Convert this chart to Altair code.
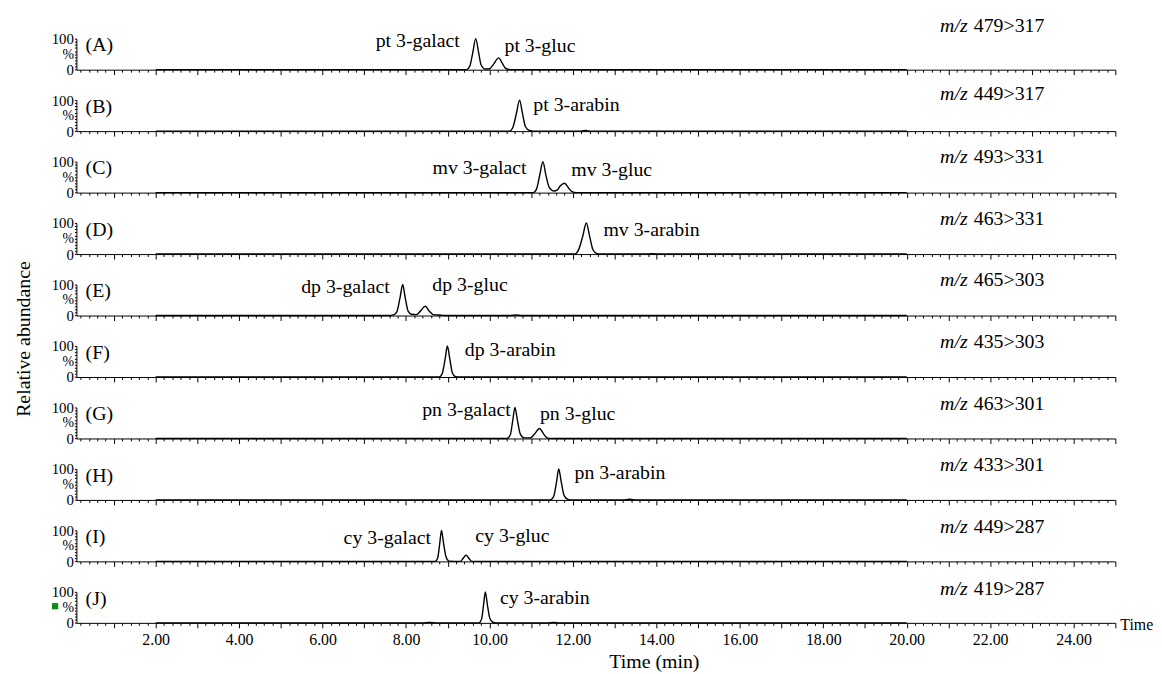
import altair as alt
import pandas as pd

FONT = "Liberation Serif"

# ---------------- data ----------------
panel_letters = ["A", "B", "C", "D", "E", "F", "G", "H", "I", "J"]
mz_transitions = ["479>317", "449>317", "493>331", "463>331", "465>303",
                  "435>303", "463>301", "433>301", "449>287", "419>287"]
mz_levels = [141, 118, 114, 113, 113, 112, 112, 111, 110, 109]

# chromatogram traces: (time in min, relative abundance in %)
trace_A = [(2.0, 0), (9.45, 0), (9.53, 12), (9.6, 55), (9.67, 100), (9.74, 55), (9.8, 15),
           (9.9, 2), (10.0, 3), (10.1, 18), (10.22, 38), (10.31, 20), (10.38, 5), (10.5, 0), (20.0, 0)]
trace_B = [(2.0, 0), (10.48, 0), (10.56, 12), (10.65, 60), (10.72, 100), (10.79, 58), (10.86, 15),
           (10.96, 2), (11.05, 0), (12.15, 0), (12.29, 2), (12.45, 0), (20.0, 0)]
trace_C = [(2.0, 0), (11.05, 0), (11.13, 12), (11.21, 60), (11.28, 100), (11.35, 58), (11.43, 18),
           (11.55, 5), (11.62, 8), (11.7, 22), (11.8, 30), (11.9, 14), (11.98, 3), (12.08, 0), (20.0, 0)]
trace_D = [(2.0, 0), (12.04, 0), (12.13, 12), (12.24, 60), (12.32, 100), (12.4, 58), (12.48, 14),
           (12.57, 2), (12.66, 0), (13.7, 0), (13.9, 1.5), (14.15, 0), (20.0, 0)]
trace_E = [(2.0, 0), (7.6, 0), (7.7, 2), (7.78, 12), (7.86, 60), (7.92, 100), (7.98, 58), (8.05, 14),
           (8.13, 4), (8.25, 3), (8.35, 15), (8.46, 30), (8.56, 14), (8.65, 3), (8.85, 1), (8.95, 0),
           (10.5, 0), (10.63, 1.5), (10.78, 0), (20.0, 0)]
trace_F = [(2.0, 0), (8.8, 0), (8.87, 12), (8.94, 60), (8.99, 100), (9.05, 58), (9.11, 14),
           (9.19, 1), (9.28, 0), (20.0, 0)]
trace_G = [(2.0, 0), (10.42, 0), (10.5, 12), (10.56, 60), (10.61, 100), (10.67, 58), (10.74, 14),
           (10.83, 2), (10.98, 2), (11.08, 14), (11.2, 32), (11.3, 14), (11.38, 2), (11.48, 0), (20.0, 0)]
trace_H = [(2.0, 0), (11.46, 0), (11.54, 12), (11.61, 60), (11.66, 100), (11.72, 58), (11.79, 14),
           (11.88, 2), (11.98, 0), (13.2, 0), (13.36, 2), (13.52, 0), (20.0, 0)]
trace_I = [(2.0, 0), (8.7, 0), (8.76, 12), (8.81, 60), (8.85, 100), (8.9, 58), (8.96, 14),
           (9.03, 1), (9.3, 0), (9.37, 10), (9.44, 20), (9.51, 9), (9.58, 0), (20.0, 0)]
trace_J = [(2.0, 0), (8.4, 0), (8.57, 1.5), (8.75, 0), (9.75, 0), (9.81, 12), (9.86, 60), (9.9, 100),
           (9.95, 58), (10.01, 14), (10.08, 2), (10.16, 0), (11.4, 0), (11.54, 1.5), (11.7, 0), (20.0, 0)]
traces = [trace_A, trace_B, trace_C, trace_D, trace_E, trace_F, trace_G, trace_H, trace_I, trace_J]

# peak annotations
peak_panel = ["A", "A", "B", "C", "C", "D", "E", "E", "F", "G", "G", "H", "I", "I", "J"]
peak_name = ["pt 3-galact", "pt 3-gluc", "pt 3-arabin",
             "mv 3-galact", "mv 3-gluc", "mv 3-arabin",
             "dp 3-galact", "dp 3-gluc", "dp 3-arabin",
             "pn 3-galact", "pn 3-gluc", "pn 3-arabin",
             "cy 3-galact", "cy 3-gluc", "cy 3-arabin"]
peak_anchor_time = [9.29, 10.36, 11.05, 10.89, 11.96, 12.73, 7.61, 8.63, 9.41,
                    10.51, 11.21, 12.04, 8.60, 9.66, 10.25]
peak_anchor_level = [91, 75, 84, 78, 73, 76, 91, 97, 87, 90, 80, 86, 75, 83, 80]

x_domain = [0.1, 25.0]
x_tick_values = [round(0.2 * i, 1) for i in range(1, 126)]
y_tick_values = list(range(0, 101, 10))

# ---------------- chart ----------------
PW, PH = 1048, 31.3

def X(last):
    return alt.X(
        "t:Q",
        scale=alt.Scale(domain=x_domain, nice=False, zero=False),
        axis=alt.Axis(
            values=x_tick_values,
            tickSize={"condition": {"test": "abs(datum.value - round(datum.value)) < 0.01", "value": 5},
                      "value": 2.5},
            labels=last,
            labelExpr="abs(datum.value/2 - round(datum.value/2)) < 0.01 ? format(datum.value, '.2f') : ''",
            labelFont=FONT, labelFontSize=16, labelColor="black", labelPadding=4,
            labelOverlap=False, labelFlush=False, title=None, grid=False,
            domainColor="black", tickColor="black", domainWidth=1, tickWidth=1,
        ),
    )

def Y():
    return alt.Y(
        "v:Q",
        scale=alt.Scale(domain=[0, 100], nice=False),
        axis=alt.Axis(
            values=y_tick_values,
            labelExpr="datum.value == 100 ? '100' : (datum.value == 50 ? '%' : (datum.value == 0 ? '0' : ''))",
            tickSize=2, labelFont=FONT,
            labelFontSize={"condition": {"test": "datum.value == 50", "value": 14}, "value": 15},
            labelColor="black", labelPadding=1,
            labelOverlap=False, title=None, grid=False, domainColor="black", tickColor="black",
        ),
    )

panels = []
for i, letter in enumerate(panel_letters):
    last = i == len(panel_letters) - 1
    df = pd.DataFrame(traces[i], columns=["t", "v"])
    line = alt.Chart(df).mark_line(interpolate="monotone", color="black", strokeWidth=1.4,
                                   clip=False).encode(x=X(last), y=Y())

    pk = pd.DataFrame({"p": peak_panel, "name": peak_name, "t": peak_anchor_time, "v": peak_anchor_level})
    pk = pk[pk["p"] == letter]
    left_lab = pk[~pk["name"].str.contains("galact")]
    right_lab = pk[pk["name"].str.contains("galact")]
    layers = [line]
    if len(right_lab):
        layers.append(alt.Chart(right_lab).mark_text(font=FONT, fontSize=20, align="right",
                                                     baseline="middle", color="black")
                      .encode(x=X(last), y=Y(), text="name:N"))
    if len(left_lab):
        layers.append(alt.Chart(left_lab).mark_text(font=FONT, fontSize=20, align="left",
                                                    baseline="middle", color="black")
                      .encode(x=X(last), y=Y(), text="name:N"))

    lt = pd.DataFrame({"t": [0.32], "v": [78], "lab": ["(" + letter + ")"]})
    layers.append(alt.Chart(lt).mark_text(font=FONT, fontSize=20, align="left", baseline="middle",
                                          color="black").encode(x=X(last), y=Y(), text="lab:N"))

    mz = pd.DataFrame({"t": [20.8], "v": [mz_levels[i]], "a": ["m/z"], "b": [mz_transitions[i]]})
    layers.append(alt.Chart(mz).mark_text(font=FONT, fontSize=20, fontStyle="italic", align="left",
                                          baseline="middle", color="black")
                  .encode(x=X(last), y=Y(), text="a:N"))
    layers.append(alt.Chart(mz).mark_text(font=FONT, fontSize=20, align="left", baseline="middle",
                                          dx=34, color="black")
                  .encode(x=X(last), y=Y(), text="b:N"))

    if i == 4:
        ra = pd.DataFrame({"lab": ["Relative abundance"]})
        layers.append(alt.Chart(ra).mark_text(font=FONT, fontSize=20, angle=270, align="center",
                                              baseline="middle", color="black")
                      .encode(x=alt.value(-53), y=alt.value(55), text="lab:N"))
    if last:
        tm = pd.DataFrame({"t": [25.0], "v": [0], "lab": ["Time"]})
        layers.append(alt.Chart(tm).mark_text(font=FONT, fontSize=16, align="left", baseline="middle",
                                              dx=5, dy=2, color="black")
                      .encode(x=X(last), y=Y(), text="lab:N"))
        tt = pd.DataFrame({"lab": ["Time (min)"]})
        layers.append(alt.Chart(tt).mark_text(font=FONT, fontSize=20, align="center", baseline="middle",
                                              color="black")
                      .encode(x=alt.value(583), y=alt.value(PH + 40), text="lab:N"))
        sq = pd.DataFrame({"k": [0]})
        layers.append(alt.Chart(sq).mark_square(color="#128a12", size=40, opacity=1, filled=True)
                      .encode(x=alt.value(-21.5), y=alt.value(14.5)))

    panels.append(alt.layer(*layers).properties(width=PW, height=PH))

chart = (
    alt.vconcat(*panels, spacing=30, bounds="flush")
    .properties(padding={"left": 5, "top": 5, "right": 0, "bottom": 0}, background="white")
    .configure_view(stroke=None)
)

chart.save("out.html", embed_options={"renderer": "svg", "actions": False})
